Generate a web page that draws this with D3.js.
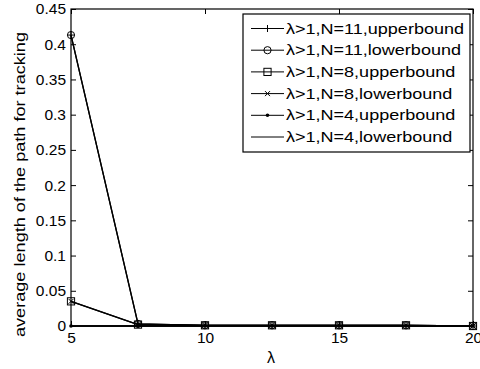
<!DOCTYPE html>
<html><head><meta charset="utf-8">
<script src="https://cdn.jsdelivr.net/npm/d3@7/dist/d3.min.js"></script>
<style>body{margin:0;background:#fff}svg{display:block}text{font-family:"Liberation Sans",Arial,sans-serif;fill:#000}</style>
</head><body><svg id="c" width="480" height="369"></svg>
<script>
const lambdas = [5, 7.5, 10, 12.5, 15, 17.5, 20];
const n11Upper = [0.413, 0.003, 0.001, 0.001, 0.001, 0.001, 0.0];
const n11Lower = [0.413, 0.003, 0.001, 0.001, 0.001, 0.001, 0.0];
const n8Upper  = [0.035, 0.002, 0.001, 0.001, 0.001, 0.001, 0.0];
const n8Lower  = [0.035, 0.002, 0.001, 0.001, 0.001, 0.001, 0.0];
const n4Upper  = [0.0, 0.0, 0.0, 0.0, 0.0, 0.0, 0.0];
const n4Lower  = [0.0, 0.0, 0.0, 0.0, 0.0, 0.0, 0.0];
const seriesNames = ["λ>1,N=11,upperbound","λ>1,N=11,lowerbound","λ>1,N=8,upperbound","λ>1,N=8,lowerbound","λ>1,N=4,upperbound","λ>1,N=4,lowerbound"];
const markers = ["plus","circle","square","cross","dot","none"];
const xTicks = [5, 10, 15, 20];
const yTicks = [0, 0.05, 0.1, 0.15, 0.2, 0.25, 0.3, 0.35, 0.4, 0.45];

const series = [n11Upper, n11Lower, n8Upper, n8Lower, n4Upper, n4Lower];
const L = 71, R = 473, T = 9, B = 326;
const svg = d3.select("#c");
const x = d3.scaleLinear().domain([5, 20]).range([L, R]);
const y = d3.scaleLinear().domain([0, 0.45]).range([B, T]);

svg.append("rect").attr("x", L).attr("y", T).attr("width", R - L).attr("height", B - T)
  .attr("fill", "#fff").attr("stroke", "#000").attr("stroke-width", 1.2);

const fmt = d => d === 0 ? "0" : String(+d.toFixed(2));
const xb = svg.append("g").attr("transform", `translate(0,${B})`)
  .call(d3.axisBottom(x).tickValues(xTicks).tickSize(-5).tickPadding(6).tickFormat(d3.format("d")));
const xt = svg.append("g").attr("transform", `translate(0,${T})`)
  .call(d3.axisTop(x).tickValues(xTicks).tickSize(-5).tickFormat(""));
const yl = svg.append("g").attr("transform", `translate(${L},0)`)
  .call(d3.axisLeft(y).tickValues(yTicks).tickSize(-5).tickPadding(5).tickFormat(fmt));
const yr = svg.append("g").attr("transform", `translate(${R},0)`)
  .call(d3.axisRight(y).tickValues(yTicks).tickSize(-5).tickFormat(""));
[xb, xt, yl, yr].forEach(g => {
  g.select(".domain").remove();
  g.selectAll("line").attr("stroke", "#000");
  g.selectAll("text").attr("fill", "#000").style("font-size", "15.5px").style("font-family", "Liberation Sans, Arial, sans-serif");
});

const line = d3.line().x((d, i) => x(lambdas[i])).y(d => y(d));

function drawMarker(g, type, cx, cy) {
  const s = 3.5;
  if (type === "plus") {
    g.append("path").attr("d", `M${cx - s},${cy}H${cx + s}M${cx},${cy - s}V${cy + s}`).attr("stroke", "#000").attr("fill", "none");
  } else if (type === "circle") {
    g.append("circle").attr("cx", cx).attr("cy", cy).attr("r", 3.6).attr("stroke", "#000").attr("fill", "none");
  } else if (type === "square") {
    g.append("rect").attr("x", cx - 3.6).attr("y", cy - 3.6).attr("width", 7.2).attr("height", 7.2).attr("stroke", "#000").attr("fill", "none");
  } else if (type === "cross") {
    const c = 2.5;
    g.append("path").attr("d", `M${cx - c},${cy - c}L${cx + c},${cy + c}M${cx - c},${cy + c}L${cx + c},${cy - c}`).attr("stroke", "#000").attr("fill", "none");
  } else if (type === "dot") {
    g.append("circle").attr("cx", cx).attr("cy", cy).attr("r", 1.8).attr("fill", "#000");
  }
}

const plot = svg.append("g");
series.forEach((vals) => {
  plot.append("path").datum(vals).attr("d", line).attr("fill", "none").attr("stroke", "#000").attr("stroke-width", 1.3);
});
series.forEach((vals, k) => {
  vals.forEach((v, i) => drawMarker(plot, markers[k], x(lambdas[i]), y(v)));
});

// legend
const lg = svg.append("g");
const lx = 243, ly = 14, lw = 227, lh = 138;
lg.append("rect").attr("x", lx).attr("y", ly).attr("width", lw).attr("height", lh).attr("fill", "#fff").attr("stroke", "#000").attr("stroke-width", 1.2);
const texts = [];
seriesNames.forEach((name, k) => {
  const ry = 28.5 + k * 21.7;
  lg.append("line").attr("x1", 251).attr("x2", 284).attr("y1", ry).attr("y2", ry).attr("stroke", "#000");
  drawMarker(lg, markers[k], 267.5, ry);
  texts.push(lg.append("text").attr("x", 286).attr("y", ry + 5).style("font-size", "14.5px").text(name));
});
const nat0 = texts[0].node().getComputedTextLength();
const factor = 178 / nat0;
texts.forEach(t => {
  const n = t.node().getComputedTextLength();
  t.attr("textLength", n * factor).attr("lengthAdjust", "spacingAndGlyphs");
});

// axis labels
svg.append("text").attr("x", 271).attr("y", 363).attr("text-anchor", "middle").style("font-size", "16px").text("λ");
svg.append("text").attr("transform", `translate(25,184.5) rotate(-90)`).attr("text-anchor", "middle")
  .style("font-size", "14.5px").attr("textLength", 305).attr("lengthAdjust", "spacingAndGlyphs")
  .text("average length of the path for tracking");
</script></body></html>
